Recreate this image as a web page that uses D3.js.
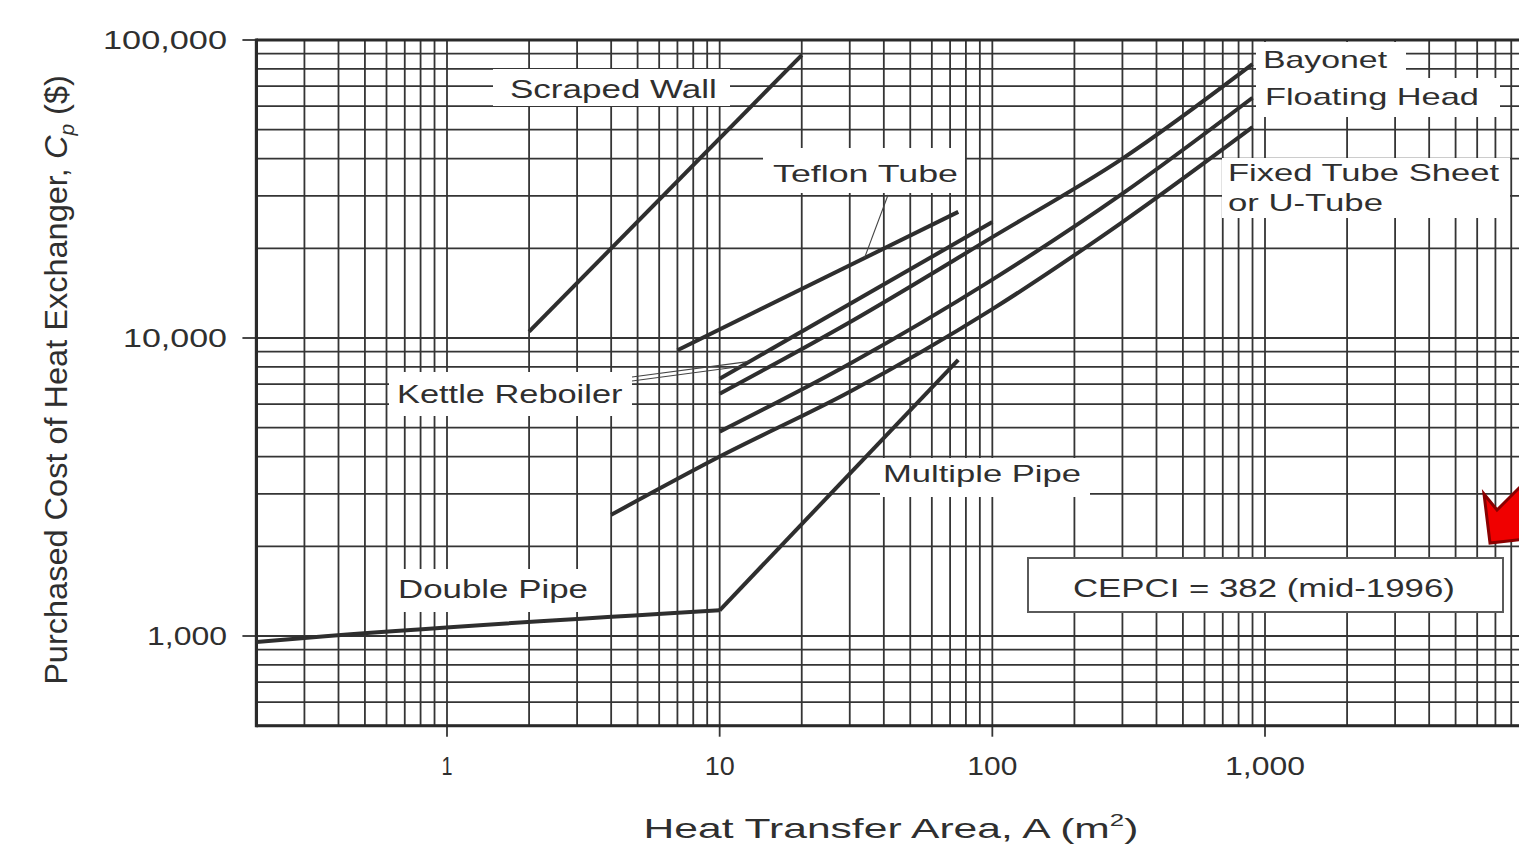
<!DOCTYPE html>
<html>
<head>
<meta charset="UTF-8">
<title>Purchased Cost of Heat Exchangers</title>
<script src="https://cdn.jsdelivr.net/npm/d3@7"></script>
<style>
    body, html { margin: 0; padding: 0; background: #fff; }
    svg { display: block; }
    text { font-family: "Liberation Sans", Arial, sans-serif; fill: #2f2f2f; }
</style>
</head>
<body>
<svg id="chart" width="1519" height="847"></svg>
<script>
    // series: area in m2, cost in $
    var scrapedArea = [2, 20];
    var scrapedCost = [10500, 89000];
    var teflonArea = [7, 75];
    var teflonCost = [9100, 26500];
    var kettleArea = [10, 100];
    var kettleCost = [7300, 24500];
    var bayonetArea = [10, 30, 100, 300, 900];
    var bayonetCost = [6500, 11300, 21800, 40000, 83000];
    var floatingArea = [10, 30, 100, 300, 900];
    var floatingCost = [4850, 8200, 15700, 30500, 64000];
    var fixedArea = [4, 10, 30, 100, 300, 900];
    var fixedCost = [2550, 4000, 6600, 12500, 24500, 51000];
    var multipleArea = [10, 75];
    var multipleCost = [1220, 8450];
    var doubleArea = [0.2, 0.3, 10];
    var doubleCost = [955, 985, 1220];

    var xTickValues = [1, 10, 100, 1000];
    var xTickLabels = ["1", "10", "100", "1,000"];
    var yTickValues = [1000, 10000, 100000];
    var yTickLabels = ["1,000", "10,000", "100,000"];

    var svg = d3.select("#chart");

    var x = d3.scaleLog().domain([1, 1000]).range([447, 1265]);
    var y = d3.scaleLog().domain([1000, 100000]).range([636, 40]);

    var xMin = 0.2, xMax = 10000, yMin = 500, yMax = 100000;
    var plotLeft = x(xMin), plotRight = 1519, plotTop = y(yMax), plotBottom = y(yMin);

    // stretch a text along its own axis to a measured width
    function fitText(parent, x0, y0, width, size, anchor, rotate, build) {
        var g = parent.append("g")
            .attr("transform", "translate(" + x0 + "," + y0 + ")" + (rotate ? " rotate(" + rotate + ")" : ""));
        var t = g.append("text").attr("font-size", size).attr("text-anchor", anchor);
        build(t);
        var bw = t.node().getBBox().width;
        t.attr("transform", "scale(" + (width / bw) + ",1)");
        return t;
    }

    // grid
    var gridX = d3.scaleLog().domain([xMin, xMax]).ticks().filter(function (d) { return x(d) <= plotRight + 1; });
    var gridY = d3.scaleLog().domain([yMin, yMax]).ticks();

    svg.append("g").selectAll("line")
        .data(gridX)
        .enter().append("line")
        .attr("x1", function (d) { return x(d); })
        .attr("x2", function (d) { return x(d); })
        .attr("y1", plotTop)
        .attr("y2", plotBottom)
        .attr("stroke", "#353535")
        .attr("stroke-width", 1.8);

    svg.append("g").selectAll("line")
        .data(gridY)
        .enter().append("line")
        .attr("x1", plotLeft)
        .attr("x2", plotRight)
        .attr("y1", function (d) { return y(d); })
        .attr("y2", function (d) { return y(d); })
        .attr("stroke", "#353535")
        .attr("stroke-width", 1.8);

    // ticks outside the frame
    svg.append("g").selectAll("line")
        .data(yTickValues)
        .enter().append("line")
        .attr("x1", plotLeft - 14).attr("x2", plotLeft)
        .attr("y1", function (d) { return y(d); })
        .attr("y2", function (d) { return y(d); })
        .attr("stroke", "#353535").attr("stroke-width", 1.8);

    svg.append("g").selectAll("line")
        .data(xTickValues)
        .enter().append("line")
        .attr("x1", function (d) { return x(d); })
        .attr("x2", function (d) { return x(d); })
        .attr("y1", plotBottom).attr("y2", plotBottom + 11)
        .attr("stroke", "#353535").attr("stroke-width", 1.8);

    // frame
    svg.append("line").attr("x1", plotLeft).attr("x2", plotLeft).attr("y1", plotTop - 1.5).attr("y2", plotBottom + 1.5)
        .attr("stroke", "#2a2a2a").attr("stroke-width", 3.2);
    svg.append("line").attr("x1", plotLeft).attr("x2", plotRight).attr("y1", plotTop).attr("y2", plotTop)
        .attr("stroke", "#2a2a2a").attr("stroke-width", 3);
    svg.append("line").attr("x1", plotLeft).attr("x2", plotRight).attr("y1", plotBottom).attr("y2", plotBottom)
        .attr("stroke", "#2a2a2a").attr("stroke-width", 3);

    // white label panels that break the grid
    var panels = [
        [493, 69, 237, 37],
        [763, 148, 202, 45],
        [389, 372, 243, 44],
        [1256, 42, 150, 36],
        [1256, 78, 244, 39],
        [1222, 158, 288, 60],
        [880, 458, 210, 39],
        [392, 569, 213, 43]
    ];
    svg.append("g").selectAll("rect")
        .data(panels)
        .enter().append("rect")
        .attr("x", function (d) { return d[0]; })
        .attr("y", function (d) { return d[1]; })
        .attr("width", function (d) { return d[2]; })
        .attr("height", function (d) { return d[3]; })
        .attr("fill", "#fff");

    svg.append("rect")
        .attr("x", 1028).attr("y", 558).attr("width", 475).attr("height", 54)
        .attr("fill", "#fff").attr("stroke", "#5a5a5a").attr("stroke-width", 2);

    // curves
    var series = [
        [scrapedArea, scrapedCost],
        [teflonArea, teflonCost],
        [kettleArea, kettleCost],
        [bayonetArea, bayonetCost],
        [floatingArea, floatingCost],
        [fixedArea, fixedCost],
        [multipleArea, multipleCost],
        [doubleArea, doubleCost]
    ];

    var line = d3.line()
        .x(function (d) { return x(d[0]); })
        .y(function (d) { return y(d[1]); })
        .curve(d3.curveMonotoneX);

    svg.append("g").selectAll("path")
        .data(series)
        .enter().append("path")
        .attr("d", function (s) { return line(d3.zip(s[0], s[1])); })
        .attr("fill", "none")
        .attr("stroke", "#2e2e2e")
        .attr("stroke-width", 4)
        .attr("stroke-linejoin", "round");

    // leader lines
    var leaders = [
        [888, 195, x(34), y(18600)],
        [632, 377, x(12.9), y(8350)],
        [632, 381, x(12.3), y(8050)]
    ];
    svg.append("g").selectAll("line")
        .data(leaders)
        .enter().append("line")
        .attr("x1", function (d) { return d[0]; })
        .attr("y1", function (d) { return d[1]; })
        .attr("x2", function (d) { return d[2]; })
        .attr("y2", function (d) { return d[3]; })
        .attr("stroke", "#444")
        .attr("stroke-width", 1.1);

    // labels: text, x, baseline, width, size
    var labels = [
        ["Scraped Wall", 510, 98, 207, 26],
        ["Teflon Tube", 773, 182, 185, 24],
        ["Kettle Reboiler", 397, 403, 226, 26],
        ["Bayonet", 1263, 68, 125, 23],
        ["Floating Head", 1265, 105, 214, 23],
        ["Fixed Tube Sheet", 1228, 181, 272, 23],
        ["or U-Tube", 1228, 211, 155, 23],
        ["Multiple Pipe", 883, 482, 198, 24],
        ["Double Pipe", 398, 598, 190, 26],
        ["CEPCI = 382 (mid-1996)", 1073, 597, 382, 26]
    ];
    labels.forEach(function (l) {
        fitText(svg, l[1], l[2], l[3], l[4], "start", 0, function (t) { t.text(l[0]); });
    });

    // tick labels
    var yTickWidths = [80, 104, 124];
    yTickValues.forEach(function (v, i) {
        fitText(svg, 227, y(v) + 9, yTickWidths[i], 25, "end", 0, function (t) { t.text(yTickLabels[i]); });
    });
    var xTickWidths = [11, 30, 50, 80];
    xTickValues.forEach(function (v, i) {
        fitText(svg, x(v), 775, xTickWidths[i], 26, "middle", 0, function (t) { t.text(xTickLabels[i]); });
    });

    // axis titles
    fitText(svg, 891, 838, 495, 28, "middle", 0, function (t) {
        t.append("tspan").text("Heat Transfer Area, A (m");
        t.append("tspan").attr("font-size", 17).attr("dy", -12).text("2");
        t.append("tspan").attr("dy", 12).text(")");
    });

    fitText(svg, 67, 380, 610, 31, "middle", -90, function (t) {
        t.append("tspan").text("Purchased Cost of Heat Exchanger, ");
        t.append("tspan").attr("font-style", "italic").text("C");
        t.append("tspan").attr("font-style", "italic").attr("font-size", 20).attr("dy", 7).text("p");
        t.append("tspan").attr("dy", -7).text(" ($)");
    });

    // red arrow annotation at the right edge
    svg.append("polygon")
        .attr("points", [[1484, 494], [1497, 510], [1560, 447], [1590, 475], [1527, 530], [1545, 537], [1490, 543]]
            .map(function (p) { return p.join(","); }).join(" "))
        .attr("fill", "#f00000")
        .attr("stroke", "#8a0000")
        .attr("stroke-width", 3)
        .attr("stroke-linejoin", "miter");
</script>
</body>
</html>
